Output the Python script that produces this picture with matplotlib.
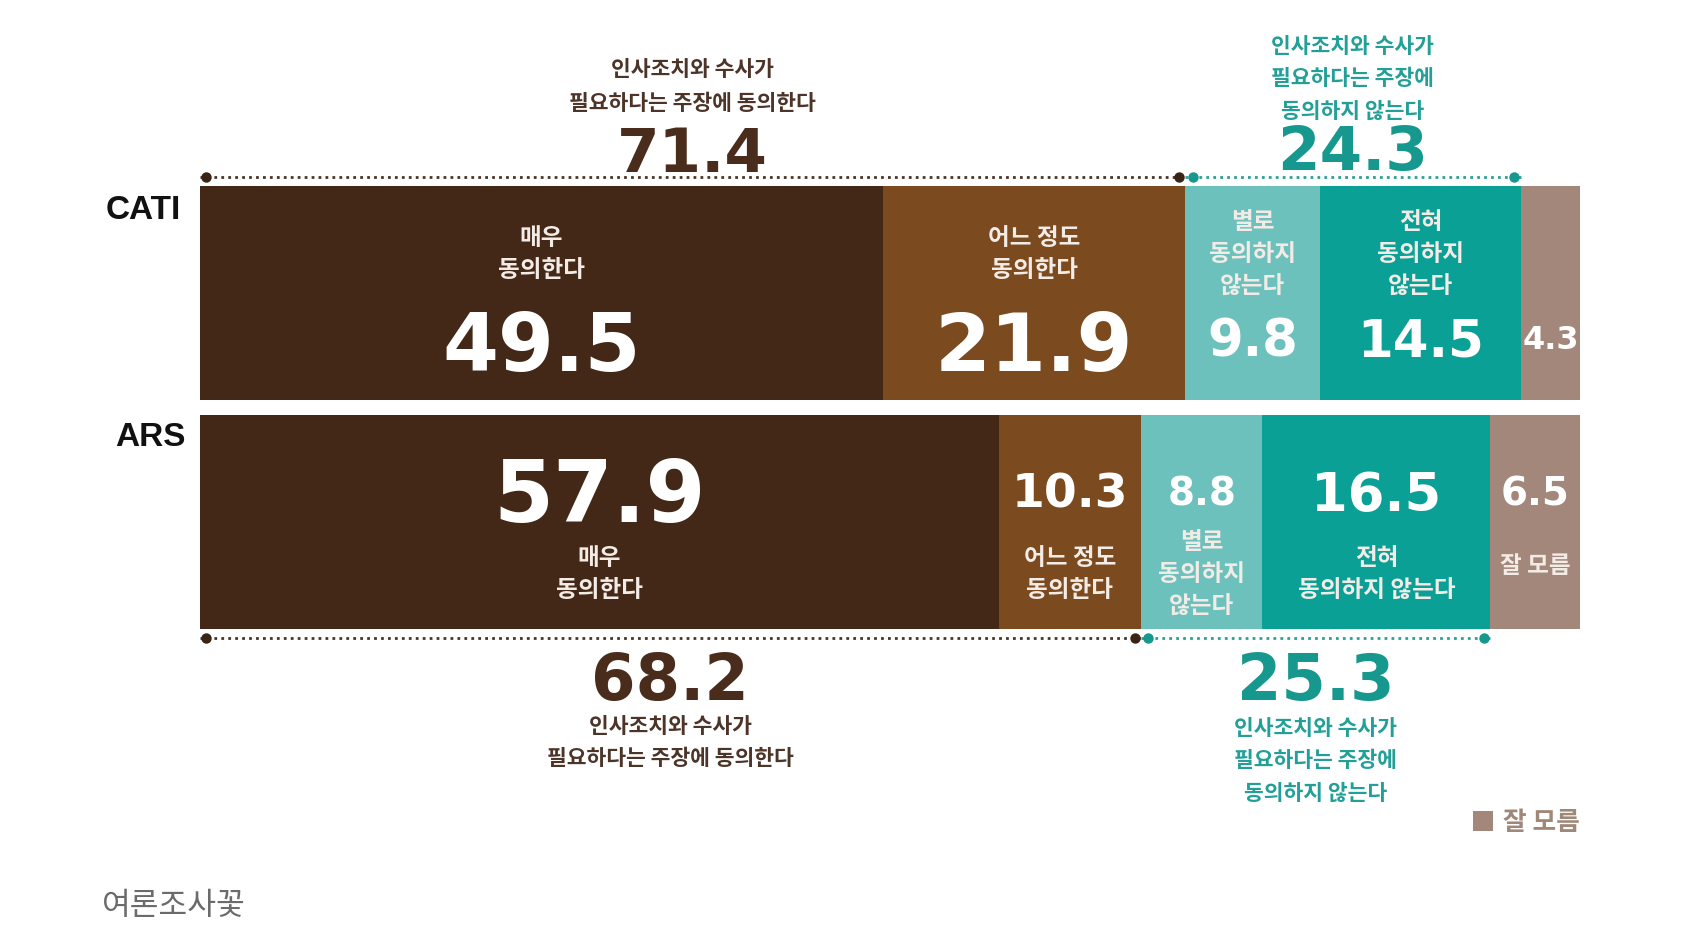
import matplotlib
matplotlib.use('Agg')
import matplotlib.pyplot as plt
import numpy as np

# ---------------- data ----------------
methods = ['CATI', 'ARS']
categories = ['매우 동의한다', '어느 정도 동의한다', '별로 동의하지 않는다', '전혀 동의하지 않는다', '잘 모름']
cati_values = [49.5, 21.9, 9.8, 14.5, 4.3]
ars_values = [57.9, 10.3, 8.8, 16.5, 6.5]
cati_seg_labels = ['매우\n동의한다', '어느 정도\n동의한다', '별로\n동의하지\n않는다', '전혀\n동의하지\n않는다', '']
ars_seg_labels = ['매우\n동의한다', '어느 정도\n동의한다', '별로\n동의하지\n않는다', '전혀\n동의하지 않는다', '잘 모름']
agree_totals = [71.4, 68.2]
disagree_totals = [24.3, 25.3]
agree_text = '인사조치와 수사가\n필요하다는 주장에 동의한다'
disagree_text = '인사조치와 수사가\n필요하다는 주장에\n동의하지 않는다'
legend_text = '잘 모름'
source_text = '여론조사꽃'

# ---------------- style ----------------
seg_colors = ['#432818', '#7b4a1f', '#6dc1bd', '#0aa096', '#a3877a']
agree_color = '#4a2c1c'
agree_label_color = '#4d3428'
disagree_color = '#16988e'
disagree_label_color = '#22a097'
KR = ['Noto Sans CJK KR', 'DejaVu Sans']
NUM = ['DejaVu Sans']

W, H = 1691, 929
fig = plt.figure(figsize=(W / 100, H / 100), dpi=100)
fig.patch.set_facecolor('white')
ax = fig.add_axes([199.5 / W, 0, (1580 - 199.5) / W, 1])
PITCH = 229.0  # px per row unit
CENTER0 = 293.8
ax.set_xlim(0, 100)
ax.set_ylim((H - CENTER0) / PITCH, -CENTER0 / PITCH)
ax.axis('off')

BAR_H = 214.4 / PITCH
rows = [cati_values, ars_values]
for r, vals in enumerate(rows):
    left = np.concatenate([[0], np.cumsum(vals)[:-1]])
    ax.barh(r, vals, left=left, height=BAR_H, color=seg_colors, linewidth=0)


def put(x, y, s, dy_px=0.0, pitch_px=32.0, **kw):
    lines = s.split('\n')
    n = len(lines)
    for i, ln in enumerate(lines):
        off = -dy_px + ((n - 1) / 2 - i) * pitch_px
        ax.annotate(ln, xy=(x, y), xytext=(0, off * 0.72), textcoords='offset points',
                    ha='center', va='center', annotation_clip=False, **kw)


def put_num(x, y, s, dy_px, size, color):
    # digits sit above the bbox centre; shift down a bit
    put(x, y, s, dy_px=dy_px + 0.075 * size * 1.389, family=NUM, fontweight='bold',
        fontsize=size, color=color)


# ---- segment labels ----
cati_num_sizes = [58, 58, 37, 37, 23]
cati_num_dy = [49, 49, 45, 45, 44]
ars_num_sizes = [62, 34, 28, 38, 28]
for r, (vals, labs, sizes) in enumerate([(cati_values, cati_seg_labels, cati_num_sizes),
                                          (ars_values, ars_seg_labels, ars_num_sizes)]):
    left = np.concatenate([[0], np.cumsum(vals)[:-1]])
    for j, v in enumerate(vals):
        xc = left[j] + v / 2
        if r == 0:
            put_num(xc, r, f'{v:.1f}', cati_num_dy[j], sizes[j], 'white')
            if labs[j]:
                put(xc, r, labs[j], dy_px=-40, pitch_px=32, family=KR, fontweight='bold',
                    fontsize=17, color='#f3ece6')
        else:
            put_num(xc, r, f'{v:.1f}', -31, sizes[j], 'white')
            if labs[j]:
                nl = labs[j].count('\n') + 1
                dy = 43 if nl == 1 else 51
                put(xc, r, labs[j], dy_px=dy, pitch_px=32, family=KR, fontweight='bold',
                    fontsize=17, color='#f3ece6')

# ---- method labels ----
for r, (m, dy, xr) in enumerate(zip(methods, [-83.0, -85.0], [181, 185.5])):
    ax.annotate(m, xy=(0, r), xytext=((xr - 199.5) * 0.72, -dy * 0.72), textcoords='offset points',
                ha='right', va='center', family=['Liberation Sans', 'DejaVu Sans'],
                fontweight='bold', fontsize=24, color='#111111', annotation_clip=False)

# ---- brackets ----
inset = 0.45
for r, vals in enumerate(rows):
    a_end = vals[0] + vals[1]
    d_end = a_end + vals[2] + vals[3]
    ly = r + (-115.8 if r == 0 else 116.5) / PITCH
    ax.plot([0, a_end], [ly, ly], color='#4a3428', lw=2.0, linestyle=(0, (1.0, 1.5)),
            dash_capstyle='butt', clip_on=False)
    ax.plot([a_end, d_end], [ly, ly], color='#2aa198', lw=2.0, linestyle=(0, (1.0, 1.5)),
            dash_capstyle='butt', clip_on=False)
    ax.plot([inset, a_end - inset], [ly, ly], 'o', color='#3a2416', ms=7.5, mew=0, clip_on=False)
    ax.plot([a_end + inset * 1.2, d_end - inset], [ly, ly], 'o', color='#17988e', ms=7.5, mew=0,
            clip_on=False)

    am = a_end / 2
    dm = (a_end + d_end) / 2
    if r == 0:
        put_num(am, r, f'{agree_totals[r]:.1f}', -142.8, 44, agree_color)
        put(am, r, agree_text, dy_px=-207.5, pitch_px=34.0, family=KR, fontweight='bold',
            fontsize=15.5, color=agree_label_color)
        put_num(dm, r, f'{disagree_totals[r]:.1f}', -144.8, 44, disagree_color)
        put(dm, r, disagree_text, dy_px=-215, pitch_px=32.4, family=KR, fontweight='bold',
            fontsize=15.5, color=disagree_label_color)
    else:
        put_num(am, r, f'{agree_totals[r]:.1f}', 154, 46, agree_color)
        put(am, r, agree_text, dy_px=220, pitch_px=32, family=KR, fontweight='bold',
            fontsize=15.5, color=agree_label_color)
        put_num(dm, r, f'{disagree_totals[r]:.1f}', 154, 46, disagree_color)
        put(dm, r, disagree_text, dy_px=238, pitch_px=32.5, family=KR, fontweight='bold',
            fontsize=15.5, color=disagree_label_color)

# ---- legend ----
ax.annotate(legend_text, xy=(100, 1), xytext=(0, -300 * 0.72), textcoords='offset points',
            ha='right', va='center', family=KR, fontweight='bold', fontsize=18.5,
            color='#a08878', annotation_clip=False)
ax.plot([100 - 97 / 13.805], [1 + 299 / PITCH], 's', color='#a3877a', ms=14, mew=0, clip_on=False)

# ---- source ----
fig.text(102 / W, 1 - 906 / H, source_text, ha='left', va='center', family=KR,
         fontsize=22.5, color='#6b6b6b')

fig.savefig('out.png', dpi=100, facecolor='white')
